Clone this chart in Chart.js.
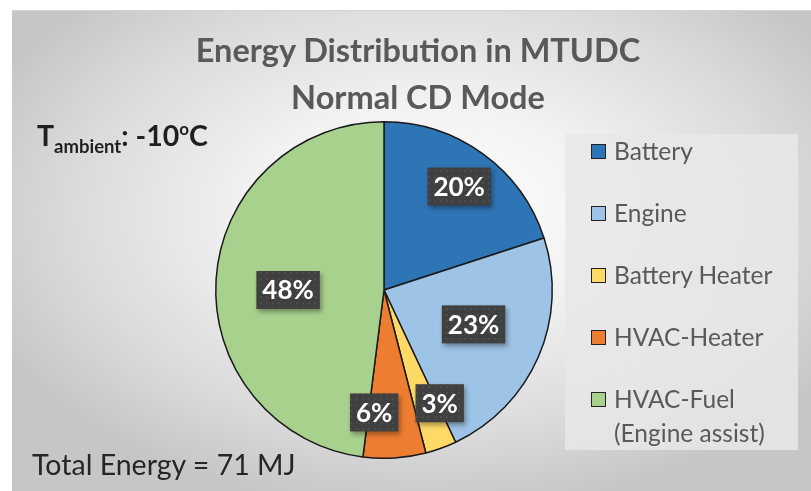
<!DOCTYPE html>
<html>
<head>
<meta charset="utf-8">
<script src="https://cdn.jsdelivr.net/npm/chart.js@4.4.1/dist/chart.umd.min.js"></script>
<style>
  html, body { margin: 0; padding: 0; background: #fff; }
  #wrap { position: relative; width: 811px; height: 491px; overflow: hidden; font-family: Lato, "Open Sans", sans-serif; }
  #panel {
    position: absolute; left: 12px; top: 10px; width: 799px; height: 481px;
    border-top: 1px solid #d4d4d4;
    background: radial-gradient(ellipse 60% 62% at 52% 42%, #ffffff 0%, #f3f3f3 35%, #dadada 75%, #c6c6c6 100%);
  }
  #chart { position: absolute; left: 0; top: 0; }
  #title {
    position: absolute; left: 118px; width: 600px; top: 26px; text-align: center;
    font-weight: bold; font-size: 32.5px; line-height: 47px; color: #595959;
  }
  #tamb {
    position: absolute; left: 37px; top: 118px; font-weight: bold; font-size: 28.5px; color: #1f1f1f;
  }
  #tamb sub { font-size: 18.5px; vertical-align: -7px; }
  #tamb sup { font-size: 17px; vertical-align: 11px; }
  #total {
    position: absolute; left: 32px; top: 447px; font-size: 28.5px; color: #262626;
  }
  #legend {
    position: absolute; left: 565px; top: 134px; width: 233px; height: 316px;
    background: rgba(232,232,232,0.85);
  }
  .item { position: absolute; left: 26px; font-size: 24.5px; line-height: 34px; color: #595959; }
  .item i {
    position: absolute; left: 0; top: 10px; width: 13px; height: 13px; border: 1px solid #222;
  }
  .item span { display: block; margin-left: 23px; white-space: pre; }
</style>
</head>
<body>
<div id="wrap">
  <div id="panel"></div>
  <canvas id="chart" width="811" height="491"></canvas>
  <div id="title">Energy Distribution in MTUDC<br>Normal CD Mode</div>
  <div id="tamb">T<sub>ambient</sub>: -10<sup>o</sup>C</div>
  <div id="total">Total Energy = 71 MJ</div>
  <div id="legend"></div>
</div>
<script>
const categories = ["Battery", "Engine", "Battery Heater", "HVAC-Heater", "HVAC-Fuel\n(Engine assist)"];
const shares = [20, 23, 3, 6, 48];
const colors = ["#2e75b6", "#9dc3e6", "#ffd966", "#ed7d31", "#a9d18e"];

// where each percent box sits: fraction of radius, angle shift in degrees
const labelPlacement = [
  { frac: 0.76, shift: 0 },
  { frac: 0.57, shift: -2.4 },
  { frac: 0.75, shift: -6.4 },
  { frac: 0.73, shift: 8.2 },
  { frac: 0.57, shift: -3.6 }
];

function makeBoxPattern(ctx) {
  const c = document.createElement("canvas");
  c.width = 6; c.height = 6;
  const p = c.getContext("2d");
  p.fillStyle = "#404040";
  p.fillRect(0, 0, 6, 6);
  p.fillStyle = "#4c4c4c";
  p.fillRect(2, 2, 2, 2);
  return ctx.createPattern(c, "repeat");
}

const percentBoxes = {
  id: "percentBoxes",
  afterDatasetsDraw(chart) {
    const ctx = chart.ctx;
    const meta = chart.getDatasetMeta(0);
    const pattern = makeBoxPattern(ctx);
    ctx.save();
    ctx.font = "bold 26px Lato, 'Open Sans', sans-serif";
    ctx.textAlign = "center";
    ctx.textBaseline = "middle";
    meta.data.forEach((arc, i) => {
      const place = labelPlacement[i];
      const mid = (arc.startAngle + arc.endAngle) / 2 + place.shift * Math.PI / 180;
      const r = arc.outerRadius * place.frac;
      const x = arc.x + Math.cos(mid) * r;
      const y = arc.y + Math.sin(mid) * r;
      const text = shares[i] + "%";
      const w = ctx.measureText(text).width + 12;
      const h = 38;
      ctx.save();
      ctx.shadowColor = "rgba(0,0,0,0.35)";
      ctx.shadowBlur = 5;
      ctx.shadowOffsetX = 2;
      ctx.shadowOffsetY = 3;
      ctx.fillStyle = pattern;
      ctx.fillRect(x - w / 2, y - h / 2, w, h);
      ctx.restore();
      ctx.fillStyle = "#ffffff";
      ctx.fillText(text, x, y + 1);
    });
    ctx.restore();
  }
};

const htmlLegend = {
  id: "htmlLegend",
  afterUpdate(chart) {
    const box = document.getElementById("legend");
    box.innerHTML = "";
    chart.data.labels.forEach((label, i) => {
      const item = document.createElement("div");
      item.className = "item";
      item.style.top = (0 + i * 62) + "px";
      const sw = document.createElement("i");
      sw.style.background = chart.data.datasets[0].backgroundColor[i];
      const txt = document.createElement("span");
      txt.textContent = label;
      item.appendChild(sw);
      item.appendChild(txt);
      box.appendChild(item);
    });
  }
};

new Chart(document.getElementById("chart"), {
  type: "pie",
  data: {
    labels: categories,
    datasets: [{
      data: shares,
      backgroundColor: colors,
      borderColor: "#1a1a1a",
      borderWidth: 1.5
    }]
  },
  options: {
    responsive: false,
    animation: false,
    layout: { padding: { top: 121, bottom: 32, left: 215, right: 258 } },
    plugins: {
      legend: { display: false },
      tooltip: { enabled: false },
      title: { display: false }
    }
  },
  plugins: [percentBoxes, htmlLegend]
});
</script>
</body>
</html>
